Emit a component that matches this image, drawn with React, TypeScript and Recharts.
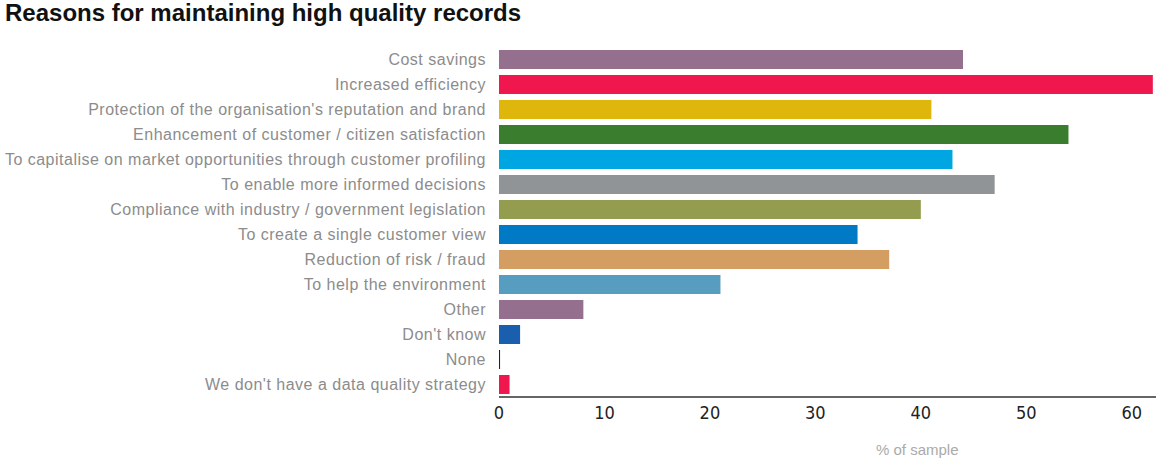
import { BarChart, Bar, XAxis, YAxis, Cell } from 'recharts'

const categories = [
  'Cost savings',
  'Increased efficiency',
  "Protection of the organisation's reputation and brand",
  'Enhancement of customer / citizen satisfaction',
  'To capitalise on market opportunities through customer profiling',
  'To enable more informed decisions',
  'Compliance with industry / government legislation',
  'To create a single customer view',
  'Reduction of risk / fraud',
  'To help the environment',
  'Other',
  "Don't know",
  'None',
  "We don't have a data quality strategy",
]

const values = [44, 62, 41, 54, 43, 47, 40, 34, 37, 21, 8, 2, 0.1, 1]

const barColors = [
  '#94708e',
  '#ef174d',
  '#dfb60c',
  '#3a7d2e',
  '#00a6e2',
  '#919496',
  '#949d4f',
  '#007ac4',
  '#d49d61',
  '#579dc0',
  '#94708e',
  '#1a5fae',
  '#222222',
  '#ef174d',
]

const xTicks = [0, 10, 20, 30, 40, 50, 60]

const data = categories.map((name, i) => ({ name, value: values[i] }))

export default function App() {
  return (
    <div style={{ position: 'absolute', left: 0, top: 0, width: 1156, height: 465, background: '#fff' }}>
      <div
        style={{
          position: 'absolute',
          left: 5,
          top: -1,
          fontFamily: 'Liberation Sans, Arial, sans-serif',
          fontWeight: 700,
          fontSize: 24,
          color: '#111',
          whiteSpace: 'nowrap',
        }}
      >
        Reasons for maintaining high quality records
      </div>
      <BarChart
        width={1156}
        height={465}
        data={data}
        layout="vertical"
        margin={{ top: 47, right: 0, bottom: 38, left: 0 }}
        barCategoryGap={3}
      >
        <XAxis
          type="number"
          domain={[0, 62.3]}
          ticks={xTicks}
          tickLine={false}
          axisLine={{ stroke: '#333', strokeWidth: 1.5 }}
          tickMargin={3}
          height={30}
          tick={{ fill: '#222', fontSize: 18, fontFamily: 'DejaVu Sans Condensed, Liberation Sans Narrow, sans-serif' }}
        />
        <YAxis
          type="category"
          dataKey="name"
          width={499}
          tickLine={false}
          axisLine={false}
          tickMargin={7}
          interval={0}
          tick={{ fill: '#8c8c8c', fontSize: 16, letterSpacing: 0.5, fontFamily: 'Liberation Sans, Arial, sans-serif' }}
        />
        <Bar dataKey="value" isAnimationActive={false}>
          {data.map((d, i) => (
            <Cell key={d.name} fill={barColors[i]} />
          ))}
        </Bar>
      </BarChart>
      <div
        style={{
          position: 'absolute',
          left: 876,
          top: 441,
          fontFamily: 'Liberation Sans, Arial, sans-serif',
          fontSize: 15,
          color: '#aaa',
        }}
      >
        % of sample
      </div>
    </div>
  )
}
